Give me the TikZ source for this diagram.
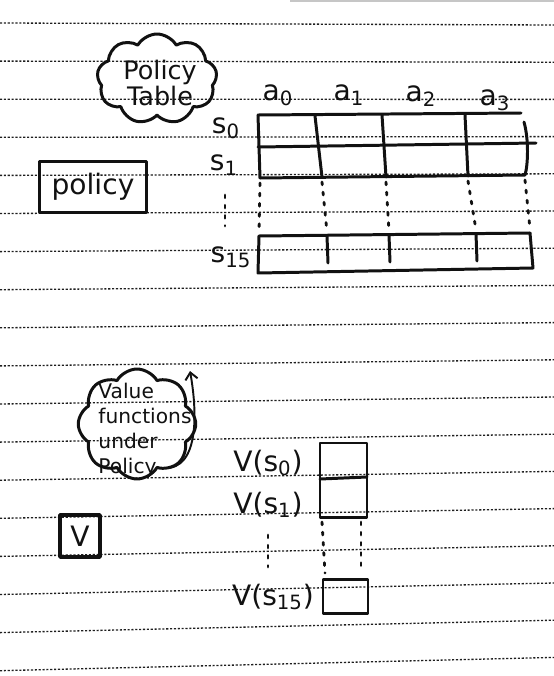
\documentclass[tikz,border=0pt]{standalone}
\usepackage{fontspec}
\setmainfont{DejaVu Sans}
\usepackage{tikz}
\usetikzlibrary{arrows.meta, shapes.symbols, calc, positioning}
\definecolor{Ink}     {HTML}{111111}
\definecolor{RuleGrey}{HTML}{1E1E1E}
\definecolor{EdgeGrey}{HTML}{C6C6C6}
\tikzset{
  pen/.style={draw=Ink, line width=1.7pt, line cap=round, line join=round},
  ruled/.style={RuleGrey, line width=0.75pt, dash pattern=on 1.2pt off 1pt},
  gap dots/.style={Ink, line width=1.6pt, line cap=round, dash pattern=on 1.6pt off 4.2pt},
}

\begin{document}
\begin{tikzpicture}[x=0.02cm, y=-0.02cm,
    hand/.style={font=\fontsize{16}{16}\selectfont, text=Ink, inner sep=0pt},
    small hand/.style={font=\fontsize{11.5}{14.2}\selectfont, text=Ink, inner sep=0pt},
    puff/.style={pen, cloud, cloud puffs=9, cloud puff arc=120, inner sep=0pt},
    framed/.style={pen, hand, line width=1.9pt, inner sep=0pt}]
  \useasboundingbox (0,0) rectangle (554,676);
  % Ruled paper
  \fill[white] (0,0) rectangle (554,676);
  \draw[EdgeGrey, line width=1.2pt] (290,1) -- (554,1);
  \foreach \i in {0,...,17}
    \draw[ruled] (0,{23+38.1*\i}) -- (554,{25+37.2*\i});

  % Left-hand labels
  \node[framed, minimum width=2.14cm, minimum height=1.02cm] (pbox) at (93,187) {policy};
  \node[framed, line width=2.1pt, minimum width=0.8cm, minimum height=0.84cm] (vbox) at (80,536) {V};

  % Clouds
  \node[puff, minimum width=2.4cm, minimum height=1.8cm] (tcloud) at (157,79) {};
  \node[hand, align=center, font=\fontsize{14.5}{13.6}\selectfont] (ttext) at (160,83) {Policy\\Table};
  \node[puff, cloud puffs=8, minimum width=2.35cm, minimum height=2.2cm] (vcloud) at (137,424) {};
  \node[small hand, align=left] (vtext) at (145,430) {Value\\functions\\under\\Policy};
  \coordinate (vtail) at (164,468);
  \coordinate (vtip)  at (190,371);
  \draw[pen, line width=1.1pt, -{Straight Barb[length=4pt,width=7pt]}]
    (vtail) .. controls (200,470) and (197,410) .. (vtip);

  % Policy table: column and row labels
  \node[hand] (a0) at (278,95)  {a\textsubscript{0}};
  \node[hand] (a1) at (349,95)  {a\textsubscript{1}};
  \node[hand] (a2) at (421,96)  {a\textsubscript{2}};
  \node[hand] (a3) at (495,100) {a\textsubscript{3}};
  \node[hand] (s0)  at (226,128) {s\textsubscript{0}};
  \node[hand] (s1)  at (224,165) {s\textsubscript{1}};
  \node[hand] (s15) at (231,257) {s\textsubscript{15}};
  \coordinate (sdotA) at (225,195);
  \coordinate (sdotB) at (225,226);
  \draw[gap dots] (sdotA) -- (sdotB);

  % Policy table: rows s0, s1
  \foreach \n/\x/\y in {0/258/115, 1/315/116, 2/382/115, 3/465/115, 4/521/113}
    \coordinate (t\n) at (\x,\y);
  \foreach \n/\x/\y in {0/260/178, 1/322/177, 2/386/177, 3/468/176, 4/525/175}
    \coordinate (u\n) at (\x,\y);
  \draw[pen] (t0) -- (t4);
  \draw[pen] (258,147) -- (536,143);
  \draw[pen] (u0) -- (u4);
  \foreach \n in {0,...,3}
    \draw[pen] (t\n) -- (u\n);
  \draw[pen] (524,122) .. controls (529,140) and (528,165) .. (u4);

  % Policy table: row s15
  \foreach \n/\x/\y in {0/259/236, 1/327/236, 2/389/235, 3/476/234, 4/530/233}
    \coordinate (l\n) at (\x,\y);
  \draw[pen] (l0) -- (l4);
  \draw[pen] (l0) -- (258,273) -- (533,268) -- (l4);
  \foreach \n in {1,2,3}
    \draw[pen] (l\n) -- ($(l\n)+(1,27)$);
  \foreach \n in {0,...,4}
    \draw[gap dots] ($(u\n)+(0,5)$) -- ($(l\n)+(0,-4)$);

  % Value column
  \node[hand] (vs0)  at (268,463) {V(s\textsubscript{0})};
  \node[hand] (vs1)  at (268,505) {V(s\textsubscript{1})};
  \node[hand] (vs15) at (273,597) {V(s\textsubscript{15})};
  \coordinate (vdotA) at (268,535);
  \coordinate (vdotB) at (268,567);
  \draw[gap dots] (vdotA) -- (vdotB);
  \coordinate (vtop) at (320,443);
  \coordinate (vbot) at (367,517);
  \draw[pen] (vtop) rectangle (vbot);
  \draw[pen] (320,479) -- (367,477);
  \coordinate (vlow) at (323,579);
  \draw[pen] (vlow) rectangle (368,613);
  \draw[gap dots] (322,522) -- (325,573);
  \draw[gap dots] (361,522) -- (361,568);
\end{tikzpicture}
\end{document}
